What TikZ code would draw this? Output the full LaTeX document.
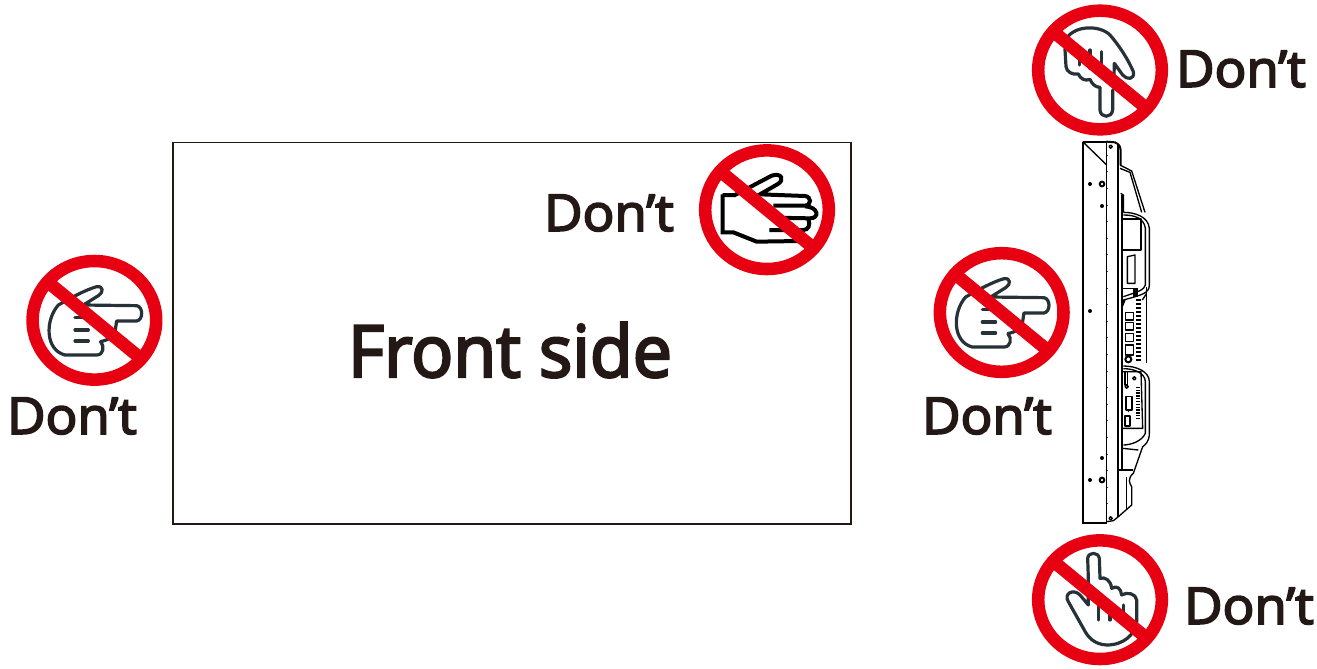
\documentclass[tikz,border=0pt]{standalone}
\usepackage{fontspec}
\setmainfont{Open Sans}[FakeBold=2.4]
\newfontfamily\dontfont{Open Sans}[FakeBold=3.6,FakeStretch=1.04]
\newfontfamily\bigfont{Open Sans}[FakeBold=3.4,FakeStretch=0.97]
\definecolor{nored}{RGB}{230,0,18}
\definecolor{handink}{RGB}{38,50,56}
\definecolor{txt}{RGB}{35,24,21}
\tikzset{
  frameline/.style={draw=txt,line width=1.3pt},
  ring/.style={draw=nored,line width=9.4pt},
  bar/.style={draw=nored,line width=9.6pt},
  hand/.style={draw=handink,line width=2.4pt,line join=round,line cap=round},
  handk/.style={draw=black,line width=3pt,line join=miter},
  dont/.style={font=\dontfont\fontsize{38}{38}\selectfont,text=txt,inner sep=0pt,anchor=center},
  big/.style={font=\bigfont\fontsize{54}{54}\selectfont,text=txt,inner sep=0pt,anchor=center},
  side/.style={draw=black,line width=1pt,line join=round},
  sidethin/.style={draw=black!75,line width=0.45pt},
  sidethick/.style={draw=black,line width=1.5pt},
  hole/.style={fill=black,draw=none}
}
\newcommand{\nosign}[2]{% centre x,y
  \draw[ring] (#1,#2) ellipse [x radius=61.8,y radius=59.3];
  \draw[bar] (#1-45,#2-37) -- (#1+45,#2+37);
}
\newcommand{\handright}{%
  \draw[hand] (115,180) .. controls (150,160) and (195,135) .. (230,125)
    .. controls (250,122) and (252,142) .. (235,152) -- (190,180) -- (350,182)
    .. controls (370,185) and (370,225) .. (350,228) -- (290,228) -- (285,260)
    .. controls (280,280) and (260,285) .. (242,290) .. controls (255,305) and (250,330) .. (230,330)
    -- (135,330) .. controls (75,315) and (75,225) .. (115,180);
  \draw[hand] (165,218) -- (200,218) (165,255) -- (205,255) (165,288) -- (205,288);
}
\begin{document}
\begin{tikzpicture}[x=0.75pt,y=-0.75pt]
\useasboundingbox (0,0) rectangle (1317,668);
\node[frameline,minimum width=678*0.75pt,minimum height=381.5*0.75pt,inner sep=0pt,anchor=north west] (front) at (172,141.5) {};
\node[big] (fs) at (510,350) {Front side};
% front-hand
\begin{scope}[shift={(690,135)},x=0.25pt,y=-0.25pt]
 \draw[handk] (98,180) -- (135,180) -- (245,122) .. controls (275,112) and (285,135) .. (262,148) -- (210,178) -- (345,183)
   .. controls (365,185) and (365,210) .. (345,212) -- (250,212)
   (345,214) .. controls (385,215) and (390,250) .. (360,250) -- (250,248)
   (355,252) .. controls (362,270) and (355,285) .. (340,285) -- (238,285)
   (330,318) -- (200,320) -- (130,292) -- (98,292) -- (98,178);
\end{scope}
\nosign{767}{209.7}
\node[dont] (d1) at (609,213) {Don’t};
% left
\begin{scope}[shift={(20,245)},x=0.25pt,y=-0.25pt]\handright\end{scope}
\nosign{94.4}{320.3}
\node[dont] (d2) at (72,416) {Don’t};
% mid right
\begin{scope}[shift={(927.3,237)},x=0.25pt,y=-0.25pt]\handright\end{scope}
\nosign{1001.7}{312.5}
\node[dont] (d3) at (987,416) {Don’t};
% top
\begin{scope}[shift={(1020,0)},x=0.25pt,y=-0.25pt]
 \draw[hand] (140,115) .. controls (165,75) and (240,75) .. (270,105)
   .. controls (300,140) and (325,180) .. (340,215)
   .. controls (345,240) and (320,240) .. (308,225) -- (283,190) -- (282,225)
   (278,270) -- (278,330) .. controls (275,355) and (242,355) .. (240,330) -- (240,262)
   .. controls (225,262) and (215,250) .. (210,238) .. controls (195,245) and (180,235) .. (175,222)
   .. controls (155,225) and (140,215) .. (138,200) -- (135,150) -- (140,115);
 \draw[hand] (178,155) -- (178,195) (210,150) -- (210,205) (245,155) -- (245,210);
\end{scope}
\nosign{1100}{70}
\node[dont] (d4) at (1241,69) {Don’t};
% bottom
\begin{scope}[shift={(1020,525)},x=0.25pt,y=-0.25pt]
 \draw[hand] (205,160) -- (203,100) .. controls (205,80) and (235,80) .. (238,100) -- (240,160)
   .. controls (255,155) and (272,165) .. (275,190) .. controls (290,180) and (303,190) .. (305,210)
   .. controls (320,200) and (348,205) .. (350,225) -- (350,290)
   .. controls (345,330) and (310,360) .. (260,360) .. controls (225,358) and (205,340) .. (190,310)
   -- (145,230) .. controls (130,205) and (160,190) .. (180,210) -- (205,240) -- (205,160);
 \draw[hand] (235,245) -- (235,285) (270,240) -- (270,285) (310,240) -- (310,285);
\end{scope}
\nosign{1100}{599.7}
\node[dont] (d5) at (1249,606) {Don’t};
% side view: face
\draw[sidethick] (1082.7,141.7) -- (1082.7,523) -- (1106.7,523);
\draw[sidethick] (1082.7,141.7) -- (1106.7,141.7);
\draw[side] (1106.7,141.7) -- (1106.7,523);
\draw[side] (1082.7,141.7) -- (1106.7,165);
\foreach \k in {0,...,21}{\draw[sidethin] (1106.7,{155+\k*16.6}) -- (1108.3,{155+\k*16.6});}
\foreach \x/\y/\r in {1090/184/2,1102/206/2,1090/311/2,1102/458/2,1090/480/2}{\fill[black] (\x,\y) circle (\r);}
\draw[sidethick] (1102,184) circle (2.3) (1102,480) circle (2.3);
% side view: upper back
\begin{scope}[shift={(1070,135)},x=0.25pt,y=-0.25pt]
 \draw[sidethick] (110,20) -- (135,22) .. controls (148,28) and (152,35) .. (152,50) -- (152,90);
 \draw[sidethick] (145,30) -- (145,600);
 \draw[sidethick] (155,180) -- (155,600);
 \draw[side] (122,35) circle (5);
 \draw[side] (150,90) -- (185,108) -- (225,232);
 \draw[side] (150,100) -- (180,112) -- (215,232);
 \draw[side] (152,175) -- (160,180) -- (160,232);
 \draw[side] (160,232) .. controls (195,232) and (235,245) .. (238,280) -- (238,450) .. controls (238,475) and (215,480) .. (160,495);
 \draw[side] (160,240) .. controls (195,240) and (222,250) .. (226,280) -- (226,450) .. controls (222,465) and (205,470) .. (160,485);
 \draw[side] (155,252) -- (213,252) -- (213,345) -- (155,345);
 \draw[side] (172,365) -- (195,360) -- (195,445) -- (172,445) -- cycle;
 \draw[side] (155,460) -- (205,460);
 \fill (190,460) rectangle (205,485);
\end{scope}
% side view: ports
\begin{scope}[shift={(1105,280)},x=0.25pt,y=-0.25pt]
 \foreach \k in {0,...,15}{\fill (92,{58+\k*12}) rectangle (108,{64+\k*12});}
 \draw[side] (62,98) rectangle (85,120);
 \draw[side] (62,128) rectangle (85,150);
 \draw[side] (62,160) rectangle (85,185);
 \draw[side] (62,195) rectangle (85,225);
 \fill (50,60) -- (62,60) -- (50,90) -- cycle;
 \draw[sidethick] (70,238) circle (9);
 \draw[side] (125,20) -- (125,250);
 \draw[side] (122,100) -- (127,100) (122,235) -- (127,235);
 \draw[side] (112,60) -- (125,40);
\end{scope}
% side view: lower back
\begin{scope}[shift={(1070,330)},x=0.25pt,y=-0.25pt]
 \draw[sidethick] (145,0) -- (145,560) (155,0) -- (155,420);
 \draw[side] (160,108) .. controls (200,108) and (238,125) .. (238,155) -- (238,310) .. controls (238,335) and (225,345) .. (218,350) -- (190,430) .. controls (172,445) and (178,460) .. (185,470) -- (185,525) -- (145,560) -- (130,572) -- (110,575);
 \draw[side] (160,116) .. controls (195,116) and (225,130) .. (226,155) -- (226,310) .. controls (215,335) and (180,345) .. (160,345);
 \draw[side] (158,125) -- (213,125) -- (218,295) -- (158,295);
 \draw[side] (148,420) -- (190,420) (170,440) -- (170,540);
 \draw[side] (158,355) -- (205,360);
 \draw[side] (165,125) rectangle (172,165);
 \draw[side] (168,200) rectangle (186,240);
 \fill (175,245) circle (1.8);
 \draw[side] (165,258) rectangle (180,288);
 \foreach \k in {0,...,11}{\fill (199,{170+\k*8.5}) rectangle (211,{174+\k*8.5});}
 \draw[side] (193,145) circle (5);
 \draw[side] (170,170) circle (5);
 \draw[side] (122,565) circle (5);
\end{scope}
\end{tikzpicture}
\end{document}
